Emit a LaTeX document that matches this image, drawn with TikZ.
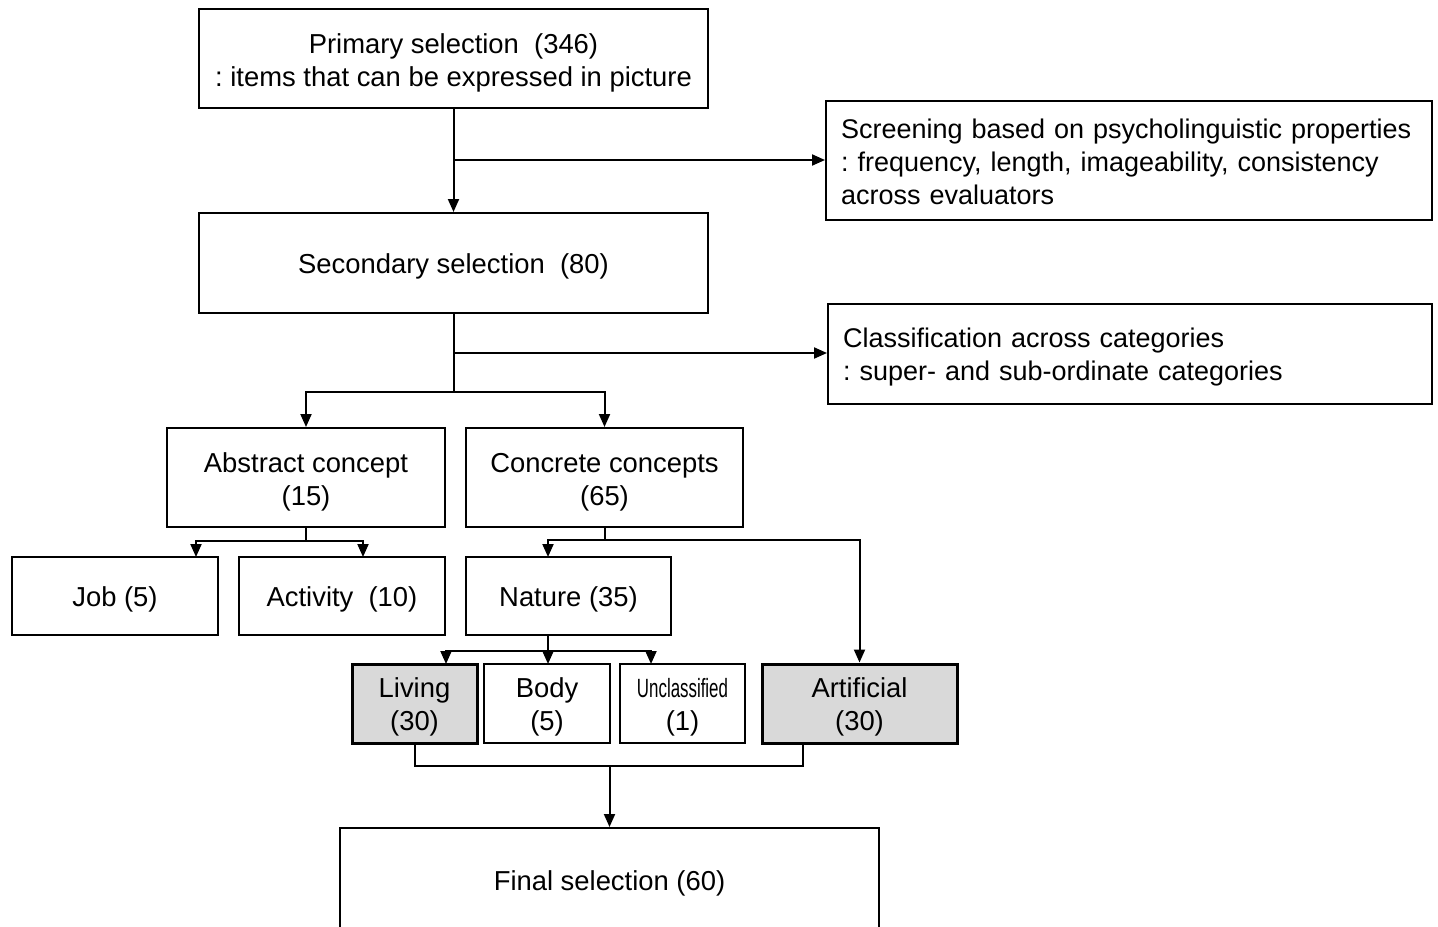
\documentclass[tikz,border=0pt]{standalone}
\usepackage{fontspec}
\usepackage{graphicx}
\setmainfont{Liberation Sans}
\frenchspacing
\usetikzlibrary{arrows.meta}
\newcommand{\toppad}{\rule{0pt}{13.8pt}}
\newcommand{\tp}[1]{\rule{0pt}{#1}}
\begin{document}
\begin{tikzpicture}[x=0.5pt,y=-0.5pt,
  box/.style={draw, line width=1pt, inner sep=0pt, align=center,
    font=\fontsize{13.7pt}{16.5pt}\selectfont},
  sbox/.style={box, execute at begin node=\toppad},
  gbox/.style={box, line width=1.5pt, fill=black!15},
  lbox/.style={draw, line width=1pt, inner xsep=7.5pt, inner ysep=0pt, align=left,
    font=\fontsize{13.5pt}{16.5pt}\selectfont},
  conn/.style={line width=1pt},
  arr/.style={conn, -{Triangle[width=5.5pt,length=6.5pt]}}]
\useasboundingbox (0,0) rectangle (1438,926);
\fill[white] (0,0) rectangle (1438,926);

\node[box, minimum width=254.5pt, minimum height=49.5pt] (prim) at (453.5,58.5)
  {\tp{14.2pt}Primary selection\ \ (346)\\: items that can be expressed in picture};
\node[lbox, minimum width=303pt, minimum height=59.5pt, text width=288pt] (scr) at (1129,160.5)
  {\tp{11.2pt}\mbox{Screening based on psycholinguistic properties}\\\mbox{: frequency,\ length,\ imageability,\ consistency}\\\mbox{across evaluators}};
\node[sbox, minimum width=254.5pt, minimum height=50pt] (sec) at (453.5,263)
  {Secondary selection\ \ (80)};
\node[lbox, minimum width=302pt, minimum height=50pt, text width=287pt] (cls) at (1130,354)
  {\tp{13.2pt}\mbox{Classification across categories}\\\mbox{: super- and sub-ordinate categories}};
\node[box, minimum width=139pt, minimum height=49.5pt] (abs) at (306,477.5)
  {\tp{14.2pt}Abstract concept\\(15)};
\node[box, minimum width=138.5pt, minimum height=49.5pt] (con) at (604.5,477.5)
  {\tp{14.2pt}Concrete concepts\\(65)};
\node[sbox, minimum width=103pt, minimum height=39pt] (job) at (115,596) {Job (5)};
\node[sbox, minimum width=103pt, minimum height=39pt] (act) at (342,596) {Activity\ \ (10)};
\node[sbox, minimum width=102.5pt, minimum height=39pt] (nat) at (568.5,596) {Nature (35)};
\node[gbox, minimum width=62.5pt, minimum height=39.5pt] (liv) at (414.5,703.5) {\tp{13.8pt}Living\\(30)};
\node[box, minimum width=63pt, minimum height=39.5pt] (body) at (547,703.5) {\tp{13.8pt}Body\\(5)};
\node[box, minimum width=62.5pt, minimum height=39.5pt] (unc) at (682.5,703.5)
  {\tp{13.8pt}\scalebox{0.64}[1]{\fontsize{13.2pt}{14pt}\selectfont Unclassified}\\(1)};
\node[gbox, minimum width=97.5pt, minimum height=39.5pt] (art) at (859.5,703.5) {\tp{13.8pt}Artificial\\(30)};
\node[sbox, minimum width=269.5pt, minimum height=52pt] (fin) at (609.5,880) {Final selection (60)};

% primary -> secondary, screening
\coordinate (j1) at (453.5,160);
\draw[arr] (prim.south) -- (sec.north);
\draw[arr] (j1) -- (scr.west |- j1);
% secondary -> classification, abstract, concrete
\coordinate (j2) at (453.5,392);
\coordinate (j2b) at (453.5,353);
\draw[conn] (sec.south) -- (j2);
\draw[arr] (j2b) -- (cls.west |- j2b);
\draw[arr] (j2) -| (abs.north);
\draw[arr] (j2) -| (con.north);
% abstract -> job, activity
\coordinate (j3) at (306,541);
\coordinate (jobin) at (196,557);
\coordinate (actin) at (363,557);
\draw[conn] (abs.south) -- (j3);
\draw[arr] (j3) -| (jobin);
\draw[arr] (j3) -| (actin);
% concrete -> nature, artificial
\coordinate (j4) at (604.5,540);
\coordinate (natin) at (548,557);
\draw[conn] (con.south) -- (j4);
\draw[arr] (j4) -| (natin);
\draw[arr] (j4) -| (art.north);
% nature -> living, body, unclassified
\coordinate (natout) at (548,635);
\coordinate (j5) at (548,651);
\coordinate (livin) at (446,664);
\coordinate (bodyin) at (548,664);
\coordinate (uncin) at (651,664);
\draw[conn] (natout) -- (j5);
\draw[arr] (j5) -| (livin);
\draw[arr] (j5) -- (bodyin);
\draw[arr] (j5) -| (uncin);
% living + artificial -> final
\coordinate (artout) at (803,743);
\coordinate (j6) at (609.5,766);
\draw[conn] (liv.south) |- (artout |- j6) -- (artout);
\draw[arr] (j6) -- (fin.north);
\end{tikzpicture}
\end{document}
